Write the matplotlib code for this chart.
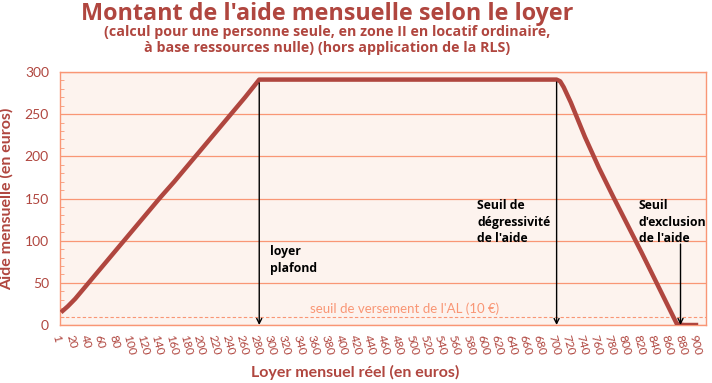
import numpy as np
import matplotlib
matplotlib.use("Agg")
import matplotlib.pyplot as plt
from matplotlib.ticker import MultipleLocator

# category labels of the x axis (evenly spaced, not proportional)
x_ticks = [1] + list(range(20, 901, 20))

# curve: real rent (euros) -> monthly aid (euros)
loyer = [1, 10, 20, 40, 60, 80, 100, 120, 140, 160, 180, 200, 220, 240, 260, 280,
         700, 705, 710, 720, 740, 760, 780, 800, 820, 840, 860, 870, 880, 900]
aide = [15, 22, 31, 51, 71, 91, 111, 131, 151, 170, 190, 210, 230, 250, 270, 291,
        291, 289, 282, 264, 223, 186, 152, 119, 86, 52, 18, 1, 0, 0]

seuil_versement = 10
markers = [280, 700, 875]
marker_top = [287, 288, 96]

RED = "#b0463f"
SALMON = "#f99675"
BG = "#fdf3ee"
HEAD = ["Open Sans", "DejaVu Sans"]

def pos(v):
    return np.interp(v, x_ticks, np.arange(len(x_ticks)))

fig = plt.figure(figsize=(7.12, 3.83), dpi=100)
plt.rcParams["font.family"] = ["Lato", "DejaVu Sans"]
ax = fig.add_axes([60 / 712, 58 / 383, 646 / 712, 253 / 383])
ax.set_facecolor(BG)

ax.plot(pos(loyer), aide, color=RED, lw=3.2, solid_joinstyle="round",
        solid_capstyle="butt", zorder=3)
ax.axhline(seuil_versement, color=SALMON, lw=0.8, ls=(0, (3, 2)), zorder=2)
ax.text(pos(352), 19, "seuil de versement de l'AL (10 €)", color=SALMON,
        fontsize=9.5, va="center", ha="left")

for xv, top in zip(markers, marker_top):
    ax.annotate("", xy=(pos(xv), 0), xytext=(pos(xv), top),
                arrowprops=dict(arrowstyle="->", color="black", lw=1,
                                shrinkA=0, shrinkB=0, mutation_scale=9), zorder=4)

ax.text(pos(295), 77, "loyer\nplafond", fontsize=8.8, fontweight="bold",
        ha="left", va="center", linespacing=1.35, family=HEAD)
ax.text(pos(588), 122, "Seuil de\ndégressivité\nde l'aide", fontsize=8.8,
        fontweight="bold", ha="left", va="center", linespacing=1.35, family=HEAD)
ax.text(pos(816), 122, "Seuil\nd'exclusion\nde l'aide", fontsize=8.8,
        fontweight="bold", ha="left", va="center", linespacing=1.35, family=HEAD)

ax.set_xlim(-0.07, 45.55)
ax.set_ylim(0, 300)
ax.set_xticks(np.arange(len(x_ticks)))
ax.set_xticklabels([str(v) for v in x_ticks], rotation=-75, ha="left",
                   rotation_mode="anchor", fontsize=8.5, color=RED)
ax.tick_params(axis="x", length=0, pad=6)
ax.yaxis.set_major_locator(MultipleLocator(50))
ax.yaxis.set_minor_locator(MultipleLocator(10))
ax.tick_params(axis="y", which="major", length=0, labelsize=10, labelcolor=RED, pad=8)
ax.tick_params(axis="y", which="minor", length=3, direction="in", color=SALMON)
ax.grid(axis="y", which="major", color=SALMON, lw=0.9)
ax.set_axisbelow(True)
for sp in ax.spines.values():
    sp.set_color(SALMON)
    sp.set_linewidth(1)

ax.set_ylabel("Aide mensuelle (en euros)", color=RED, fontsize=11.5,
              fontweight="bold", labelpad=8)
ax.set_xlabel("Loyer mensuel réel (en euros)", color=RED, fontsize=11.5,
              fontweight="bold")
ax.xaxis.set_label_coords((355 - 60) / 646, -(372 - 325) / 253)
ax.xaxis.label.set_va("center")

fig.text(327 / 712, 1 - 14 / 383, "Montant de l'aide mensuelle selon le loyer",
         ha="center", va="center", color=RED, fontsize=16.8, fontweight="bold",
         family=HEAD)
fig.text(327 / 712, 1 - 40 / 383,
         "(calcul pour une personne seule, en zone II en locatif ordinaire,\n"
         "à base ressources nulle) (hors application de la RLS)",
         ha="center", va="center", color=RED, fontsize=10.3, fontweight="bold",
         linespacing=1.1, family=HEAD)

fig.savefig("out.png", dpi=100)
